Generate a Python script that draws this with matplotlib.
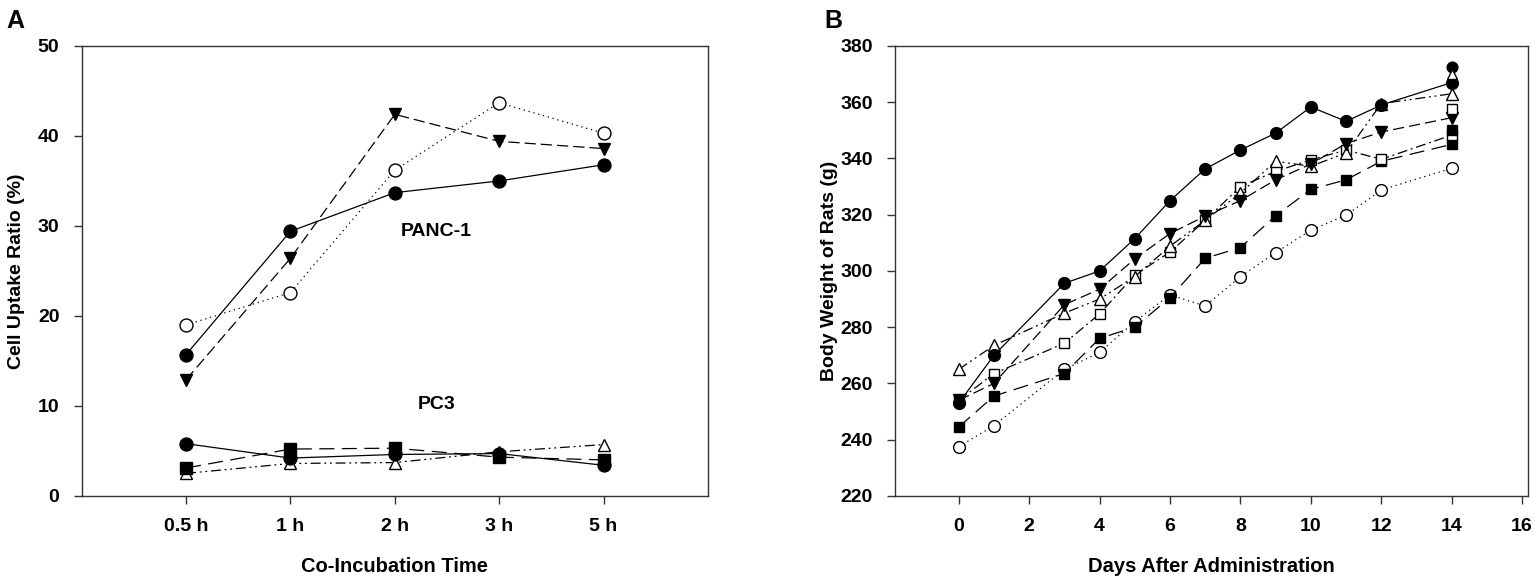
import matplotlib.pyplot as plt

plt.rcParams['font.family'] = ['Liberation Sans', 'DejaVu Sans']
plt.rcParams['font.weight'] = 'bold'

# ---- Panel A: cell uptake ----
time_labels = ["0.5 h", "1 h", "2 h", "3 h", "5 h"]
time_pos = [1, 2, 3, 4, 5]

panc_filled_circle = [15.7, 29.4, 33.7, 35.0, 36.8]
panc_open_circle = [19.0, 22.6, 36.2, 43.7, 40.3]
panc_filled_tri = [12.9, 26.4, 42.4, 39.4, 38.6]

pc3_filled_circle = [5.8, 4.2, 4.6, 4.7, 3.4]
pc3_filled_square = [3.1, 5.2, 5.3, 4.3, 4.0]
pc3_open_tri = [2.5, 3.6, 3.7, 4.9, 5.7]

# ---- Panel B: body weight ----
days = [0, 1, 3, 4, 5, 6, 7, 8, 9, 10, 11, 12, 14]
bw_filled_circle = [253, 270, 295.6, 300, 311.5, 325, 336.3, 343, 349, 358.3, 353.2, 359, 367]
bw_open_circle = [237.5, 245, 265, 271, 282, 291.5, 287.5, 298, 306.5, 314.5, 319.8, 328.8, 336.5]
bw_filled_tri = [254, 260, 288, 293.5, 304.3, 313.3, 319.5, 325, 332.4, 338, 345.3, 349.4, 354.5]
bw_open_tri = [265, 273.5, 285, 290, 298, 308.8, 318, 327.7, 339, 337.2, 342, 359.5, 363]
bw_filled_square = [244.5, 255.5, 263.5, 276, 280, 290.5, 304.5, 308.3, 319.6, 329, 332.4, 339, 345]
bw_open_square = [254, 263.5, 274.3, 284.7, 298.6, 306.7, 318, 330, 335.4, 339.5, 343, 339.7, 348.3]

# extra points drawn at day 14 without visible connecting lines
extra_day = [14, 14, 14, 14]
extra_vals = [372.4, 370, 357.7, 350]
extra_markers = ["o", "^", "s", "s"]
extra_fill = ["black", "white", "white", "black"]

fig = plt.figure(figsize=(15.35, 5.82), dpi=100)
axA = fig.add_axes([0.0532, 0.148, 0.408, 0.773])
axB = fig.add_axes([0.5831, 0.148, 0.4124, 0.773])

lw = 0.9
dotted = (0, (1, 3))
dashed = (0, (9, 4))
longdash = (0, (12, 6))
dashdot = (0, (8, 3, 1.5, 3))
dashdotdot = (0, (8, 3, 1.5, 3, 1.5, 3))


def series(ax, x, y, marker, fill, ls, size):
    ax.plot(x, y, color="black", linestyle=ls, linewidth=lw, marker=marker,
            markersize=size, markerfacecolor=fill, markeredgecolor="black",
            markeredgewidth=1.0)


ms = 9.3
series(axA, time_pos, panc_open_circle, "o", "white", dotted, ms)
series(axA, time_pos, panc_filled_tri, "v", "black", dashed, ms)
series(axA, time_pos, panc_filled_circle, "o", "black", "-", ms)
series(axA, time_pos, pc3_open_tri, "^", "white", dashdotdot, ms)
series(axA, time_pos, pc3_filled_square, "s", "black", longdash, ms - 0.8)
series(axA, time_pos, pc3_filled_circle, "o", "black", "-", ms)

axA.text(3.4, 29.4, "PANC-1", fontsize=14, fontweight="bold", ha="center", va="center")
axA.text(3.4, 10.1, "PC3", fontsize=14, fontweight="bold", ha="center", va="center")

axA.set_xlim(0, 6)
axA.set_ylim(0, 50)
axA.set_xticks(time_pos)
axA.set_xticklabels(time_labels)
axA.set_yticks([0, 10, 20, 30, 40, 50])
axA.set_xlabel("Co-Incubation Time", fontsize=14.5, fontweight="bold", labelpad=16)
axA.set_ylabel("Cell Uptake Ratio (%)", fontsize=14, fontweight="bold", labelpad=9)

ms_b = 8.5
series(axB, days, bw_open_circle, "o", "white", dotted, ms_b)
series(axB, days, bw_filled_square, "s", "black", longdash, ms_b - 0.8)
series(axB, days, bw_open_square, "s", "white", dashdot, ms_b - 0.8)
series(axB, days, bw_open_tri, "^", "white", dashdotdot, ms_b)
series(axB, days, bw_filled_tri, "v", "black", dashed, ms_b)
series(axB, days, bw_filled_circle, "o", "black", "-", ms_b)
for d, v, m, f in zip(extra_day, extra_vals, extra_markers, extra_fill):
    axB.plot(d, v, linestyle="none", marker=m, markersize=ms_b - 0.8,
             markerfacecolor=f, markeredgecolor="black", markeredgewidth=1.0)

axB.set_xlim(-1.81, 16.17)
axB.set_ylim(220, 380)
axB.set_xticks(range(0, 17, 2))
axB.set_yticks(range(220, 381, 20))
axB.set_xlabel("Days After Administration", fontsize=14.5, fontweight="bold", labelpad=16)
axB.set_ylabel("Body Weight of Rats (g)", fontsize=14, fontweight="bold", labelpad=2)

for ax in (axA, axB):
    for sp in ax.spines.values():
        sp.set_color("#333333")
        sp.set_linewidth(1.0)
    ax.tick_params(axis="both", direction="out", length=6, width=1.0,
                   color="#333333", labelsize=14, pad=10)
    for lab in ax.get_xticklabels() + ax.get_yticklabels():
        lab.set_fontweight("bold")

fig.text(0.004, 0.985, "A", fontsize=18, fontweight="bold", va="top", ha="left")
fig.text(0.537, 0.985, "B", fontsize=18, fontweight="bold", va="top", ha="left")

fig.savefig("out.png", dpi=100)
